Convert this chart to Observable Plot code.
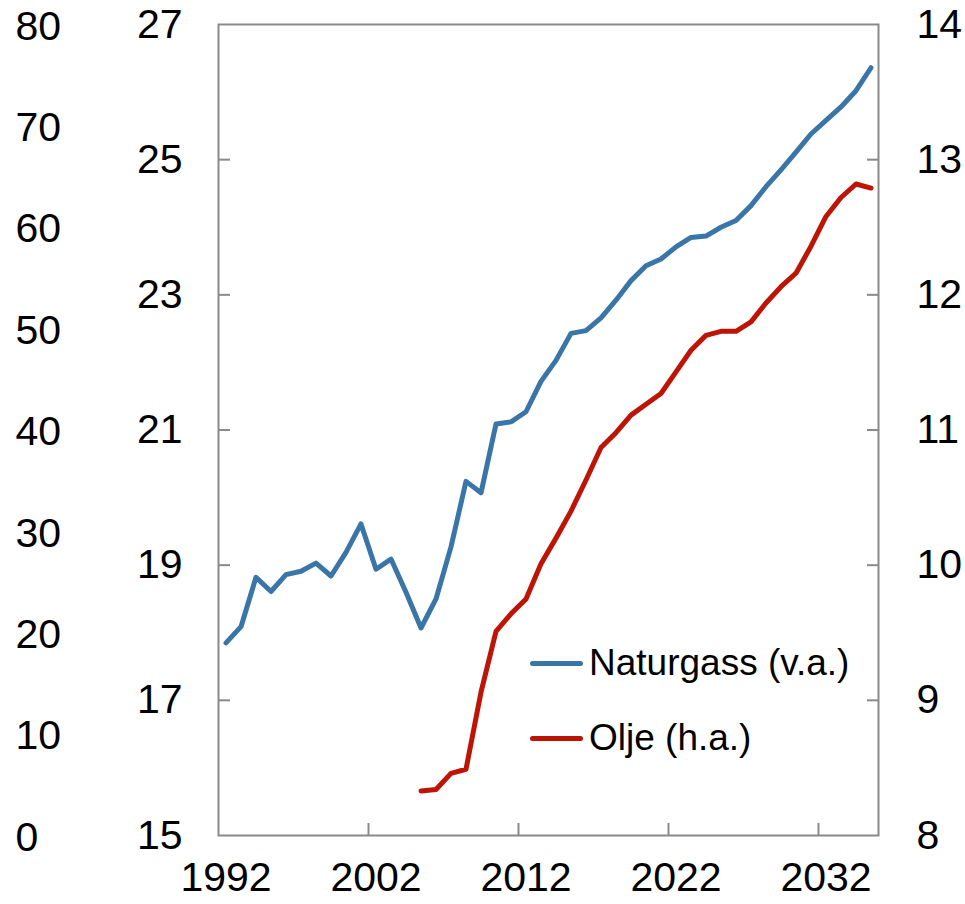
<!DOCTYPE html>
<html>
<head>
<meta charset="utf-8">
<script src="https://cdn.jsdelivr.net/npm/d3@7"></script>
<script src="https://cdn.jsdelivr.net/npm/@observablehq/plot@0.6"></script>
<style>
  body { margin: 0; background: #fff; }
  #wrap { position: relative; width: 965px; height: 904px; }
  .legend-item { position: absolute; left: 530px; height: 44px; display: flex; align-items: center;
    font-family: "Liberation Sans", Arial, sans-serif; font-size: 37px; color: #000; white-space: nowrap; }
  .swatch { width: 53px; height: 5px; border-radius: 2.5px; margin-right: 6px; }
</style>
</head>
<body>
<div id="wrap"></div>
<script>
// ---- data ----
const gasYears = [1992,1993,1994,1995,1996,1997,1998,1999,2000,2001,2002,2003,2004,2005,2006,2007,2008,2009,2010,2011,2012,2013,2014,2015,2016,2017,2018,2019,2020,2021,2022,2023,2024,2025,2026,2027,2028,2029,2030,2031,2032,2033,2034,2035];
const gasValues = [17.85,18.09,18.82,18.61,18.86,18.91,19.03,18.84,19.19,19.61,18.94,19.09,18.60,18.07,18.50,19.27,20.24,20.07,21.09,21.12,21.27,21.72,22.03,22.43,22.47,22.66,22.92,23.21,23.43,23.53,23.71,23.85,23.87,24.00,24.10,24.32,24.60,24.85,25.11,25.38,25.58,25.78,26.02,26.36];
const oilYears = [2005,2006,2007,2008,2009,2010,2011,2012,2013,2014,2015,2016,2017,2018,2019,2020,2021,2022,2023,2024,2025,2026,2027,2028,2029,2030,2031,2032,2033,2034,2035];
const oilValues = [8.33,8.34,8.46,8.49,9.06,9.51,9.64,9.75,10.01,10.20,10.40,10.63,10.87,10.98,11.11,11.19,11.27,11.43,11.59,11.70,11.73,11.73,11.80,11.94,12.06,12.16,12.36,12.58,12.72,12.82,12.79];
const leftTicks = [15,17,19,21,23,25,27];
const rightTicks = [8,9,10,11,12,13,14];
const outerTicks = [0,10,20,30,40,50,60,70,80];
const xTickYears = [1992,2002,2012,2022,2032];
const seriesNames = ["Naturgass (v.a.)", "Olje (h.a.)"];
const seriesColors = ["#3a75a8", "#bd1405"];

// ---- map secondary axes onto the left (primary) scale ----
const oilToLeft = v => 15 + (v - 8) * 2;     // 8..14 -> 15..27
const outerToLeft = v => 15 + v * 0.15;      // 0..80 -> 15..27

const gas = gasYears.map((yr, i) => ({year: yr, value: gasValues[i]}));
const oil = oilYears.map((yr, i) => ({year: yr, value: oilValues[i]}));

const font = '"Liberation Sans", Arial, sans-serif';
const innerTicks = leftTicks.slice(1, -1);
const fs = 41;

const chart = Plot.plot({
  width: 965,
  height: 904,
  marginLeft: 218,
  marginRight: 87,
  marginTop: 24,
  marginBottom: 69,
  style: {fontFamily: font, fontSize: fs + "px", background: "white", color: "#000"},
  x: {domain: [1992, 2036], axis: null},
  y: {domain: [15, 27], axis: null},
  marks: [
    Plot.frame({stroke: "#8a8a8a", strokeWidth: 2}),
    Plot.axisY(innerTicks, {anchor: "left", tickSize: -12, text: null, label: null, stroke: "#8a8a8a", strokeWidth: 2}),
    Plot.axisY(innerTicks, {anchor: "right", tickSize: -12, text: null, label: null, stroke: "#8a8a8a", strokeWidth: 2}),
    Plot.axisX(xTickYears.slice(1), {anchor: "bottom", tickSize: -12, text: null, label: null, stroke: "#8a8a8a", strokeWidth: 2}),
    Plot.text(leftTicks, {y: d => d, text: d => String(d), frameAnchor: "left", dx: -36, textAnchor: "end", fontSize: fs, fill: "#000"}),
    Plot.text(rightTicks, {y: d => oilToLeft(d), text: d => String(d), frameAnchor: "right", dx: 38, textAnchor: "start", fontSize: fs, fill: "#000"}),
    Plot.text(outerTicks, {y: d => outerToLeft(d), text: d => String(d), frameAnchor: "left", dx: -203, dy: 2, textAnchor: "start", fontSize: fs, fill: "#000"}),
    Plot.text(xTickYears, {x: d => d + 0.5, text: d => String(d), frameAnchor: "bottom", dy: 55, fontSize: fs, fill: "#000"}),
    Plot.line(gas, {x: d => d.year + 0.5, y: "value", stroke: seriesColors[0], strokeWidth: 5, strokeLinejoin: "round", strokeLinecap: "round"}),
    Plot.line(oil, {x: d => d.year + 0.5, y: d => oilToLeft(d.value), stroke: seriesColors[1], strokeWidth: 5, strokeLinejoin: "round", strokeLinecap: "round"})
  ]
});

const wrap = document.getElementById("wrap");
wrap.appendChild(chart);

// legend inside the plot area
const legendTops = [641, 716];
seriesNames.forEach((name, i) => {
  const item = document.createElement("div");
  item.className = "legend-item";
  item.style.top = legendTops[i] + "px";
  const sw = document.createElement("span");
  sw.className = "swatch";
  sw.style.background = seriesColors[i];
  const label = document.createElement("span");
  label.textContent = name;
  item.appendChild(sw);
  item.appendChild(label);
  wrap.appendChild(item);
});
</script>
</body>
</html>
